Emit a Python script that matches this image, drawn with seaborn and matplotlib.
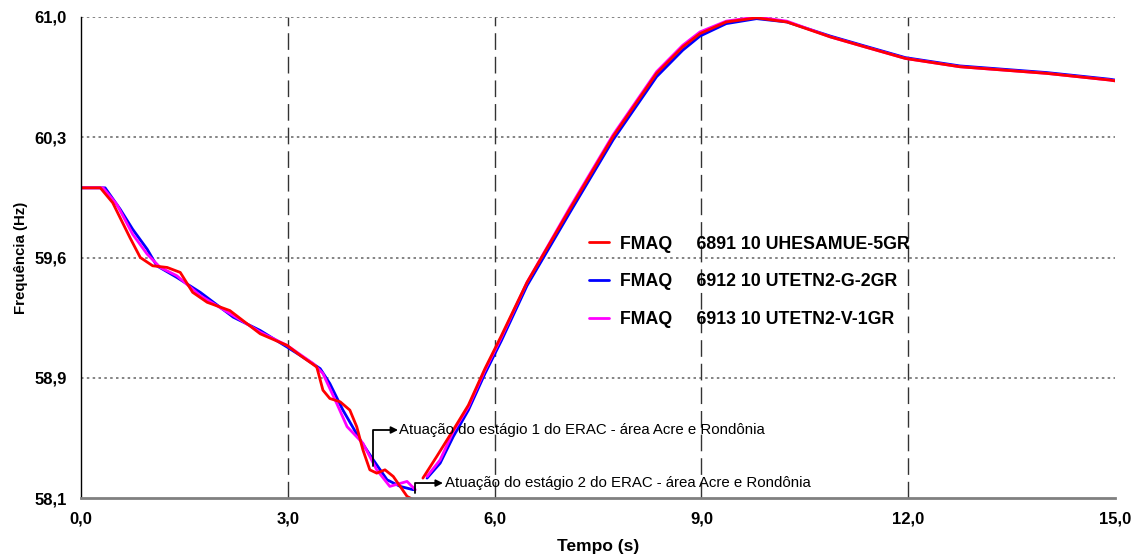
import numpy as np
import pandas as pd
import matplotlib
matplotlib.use("Agg")
import matplotlib.pyplot as plt
import seaborn as sns

# curvas (tempo em s, frequencia em Hz)
# cada curva tem dois trechos: antes e depois da atuacao do estagio 2
t_red_a = [0.00, 0.28, 0.46, 0.71, 0.86, 1.04, 1.25, 1.44, 1.62, 1.83, 2.16, 2.60, 2.99,
           3.18, 3.42, 3.51, 3.61, 3.76, 3.90, 4.00, 4.09, 4.19, 4.29, 4.41, 4.53, 4.63,
           4.73, 4.82, 4.88]
f_red_a = [59.97, 59.97, 59.88, 59.67, 59.55, 59.50, 59.49, 59.46, 59.34, 59.28, 59.23,
           59.09, 59.02, 58.96, 58.89, 58.75, 58.70, 58.68, 58.63, 58.53, 58.39, 58.27,
           58.25, 58.27, 58.23, 58.17, 58.11, 58.09, 58.08]
t_red_b = [4.96, 5.16, 5.40, 5.62, 5.86, 6.10, 6.47, 7.09, 7.72, 8.35, 8.73, 8.98, 9.36,
           9.80, 10.24, 10.87, 11.37, 11.96, 12.75, 13.38, 14.01, 14.92, 15.00]
f_red_b = [58.22, 58.35, 58.51, 58.66, 58.88, 59.08, 59.40, 59.84, 60.28, 60.66, 60.82,
           60.90, 60.97, 60.995, 60.97, 60.88, 60.82, 60.75, 60.70, 60.68, 60.66, 60.62,
           60.615]

t_blue_a = [0.00, 0.35, 0.57, 0.75, 0.96, 1.10, 1.39, 1.73, 2.21, 2.60, 2.99, 3.18, 3.47,
            3.61, 3.80, 4.05, 4.24, 4.44, 4.63, 4.82]
f_blue_a = [59.97, 59.97, 59.84, 59.72, 59.60, 59.50, 59.43, 59.34, 59.19, 59.11, 59.01,
            58.96, 58.88, 58.79, 58.63, 58.45, 58.33, 58.21, 58.17, 58.15]
t_blue_b = [5.02, 5.21, 5.40, 5.62, 5.86, 6.10, 6.47, 7.09, 7.72, 8.35, 8.73, 8.98, 9.36,
            9.80, 10.24, 10.87, 11.37, 11.96, 12.75, 13.38, 14.01, 14.92, 15.00]
f_blue_b = [58.22, 58.31, 58.47, 58.63, 58.85, 59.05, 59.38, 59.82, 60.26, 60.64, 60.80,
            60.885, 60.96, 60.99, 60.97, 60.885, 60.825, 60.755, 60.705, 60.685, 60.665,
            60.625, 60.62]

t_mag_a = [0.00, 0.32, 0.52, 0.75, 0.96, 1.15, 1.39, 1.73, 2.21, 2.60, 2.99, 3.37, 3.51,
           3.71, 3.86, 4.09, 4.29, 4.48, 4.73, 4.85]
f_mag_a = [59.97, 59.97, 59.87, 59.69, 59.57, 59.49, 59.44, 59.32, 59.20, 59.10, 59.02,
           58.91, 58.85, 58.67, 58.53, 58.43, 58.27, 58.17, 58.20, 58.15]
t_mag_b = [5.02, 5.21, 5.40, 5.62, 5.86, 6.10, 6.47, 7.09, 7.72, 8.35, 8.73, 8.98, 9.36,
           9.80, 10.24, 10.87, 11.37, 11.96, 12.75, 13.38, 14.01, 14.92, 15.00]
f_mag_b = [58.23, 58.33, 58.50, 58.65, 58.87, 59.07, 59.40, 59.85, 60.29, 60.67, 60.83,
           60.91, 60.975, 61.00, 60.975, 60.88, 60.82, 60.75, 60.70, 60.68, 60.66, 60.62,
           60.615]

series = ["FMAQ     6891 10 UHESAMUE-5GR",
          "FMAQ     6912 10 UTETN2-G-2GR",
          "FMAQ     6913 10 UTETN2-V-1GR"]
colors = ["#ff0000", "#0000ff", "#ff00ff"]

xticks = [0, 3, 6, 9, 12, 15]
xlabels = ["0,0", "3,0", "6,0", "9,0", "12,0", "15,0"]
yticks = np.linspace(58.1, 61.0, 5)
ylabels = ["58,1", "58,9", "59,6", "60,3", "61,0"]

nota1 = "Atuação do estágio 1 do ERAC - área Acre e Rondônia"
nota2 = "Atuação do estágio 2 do ERAC - área Acre e Rondônia"

rows = []
for name, parts in [(series[0], [(t_red_a, f_red_a), (t_red_b, f_red_b)]),
                    (series[1], [(t_blue_a, f_blue_a), (t_blue_b, f_blue_b)]),
                    (series[2], [(t_mag_a, f_mag_a), (t_mag_b, f_mag_b)])]:
    for k, (tt, ff) in enumerate(parts):
        for t, f in zip(tt, ff):
            rows.append({"tempo": t, "freq": f, "serie": name, "trecho": k})
df = pd.DataFrame(rows)

sns.set_style("white")
plt.rcParams["font.family"] = ["Liberation Sans", "DejaVu Sans"]
plt.rcParams["text.color"] = "black"
plt.rcParams["axes.labelcolor"] = "black"

fig = plt.figure(figsize=(11.36, 5.59), dpi=100)
ax = fig.add_axes([0.0713, 0.1091, 0.9102, 0.8605])

# ordem de desenho: azul, magenta, vermelho (vermelho por cima)
order = [series[1], series[2], series[0]]
pal = {series[0]: colors[0], series[1]: colors[1], series[2]: colors[2]}
sns.lineplot(data=df, x="tempo", y="freq", hue="serie", hue_order=order, palette=pal,
             units="trecho", estimator=None, sort=False, linewidth=2.0, ax=ax)

ax.set_xlim(0, 15)
ax.set_ylim(58.1, 61.0)
ax.set_xticks(xticks)
ax.set_xticklabels(xlabels, fontsize=12, fontweight="bold")
ax.set_yticks(yticks)
ax.set_yticklabels(ylabels, fontsize=12, fontweight="bold")
ax.tick_params(axis="both", length=4, width=1, color="#808080", direction="out",
               labelcolor="black")
ax.tick_params(axis="x", pad=5.5)
ax.tick_params(axis="y", color="#000000", pad=6.5)

for y in yticks[1:]:
    ax.axhline(y, color="#707070", linestyle=(0, (1.5, 2)), linewidth=1.2, zorder=0)
for x in xticks[1:-1]:
    ax.axvline(x, color="#333333", linestyle=(0, (12, 5)), linewidth=1.0, zorder=0)

for s in ["top", "right"]:
    ax.spines[s].set_visible(False)
ax.spines["left"].set_color("#000000")
ax.spines["left"].set_linewidth(1.0)
ax.spines["bottom"].set_color("#808080")
ax.spines["bottom"].set_linewidth(2.0)

ax.set_xlabel("Tempo (s)", fontsize=12.5, fontweight="bold", labelpad=9.5)
ax.set_ylabel("Frequência (Hz)", fontsize=10.8, fontweight="bold", labelpad=4)

handles, labels = ax.get_legend_handles_labels()
hmap = dict(zip(labels, handles))
leg = ax.legend([hmap[s] for s in series], series, loc="upper left",
                bbox_to_anchor=(0.476, 0.579), frameon=False,
                prop={"weight": "bold", "size": 12.8}, handlelength=1.12,
                handletextpad=0.62, labelspacing=1.17)

arr = dict(arrowstyle="-|>", color="black", linewidth=1.3, mutation_scale=10,
           shrinkA=0, shrinkB=0, connectionstyle="angle,angleA=90,angleB=0,rad=0")
ax.annotate("", xy=(4.60, 58.51), xytext=(4.24, 58.29), arrowprops=arr)
ax.text(4.62, 58.51, nota1, fontsize=10.8, va="center", ha="left", color="black")
ax.annotate("", xy=(5.25, 58.19), xytext=(4.85, 58.13), arrowprops=arr)
ax.text(5.28, 58.19, nota2, fontsize=10.8, va="center", ha="left", color="black")

fig.savefig("out.png", dpi=100)
